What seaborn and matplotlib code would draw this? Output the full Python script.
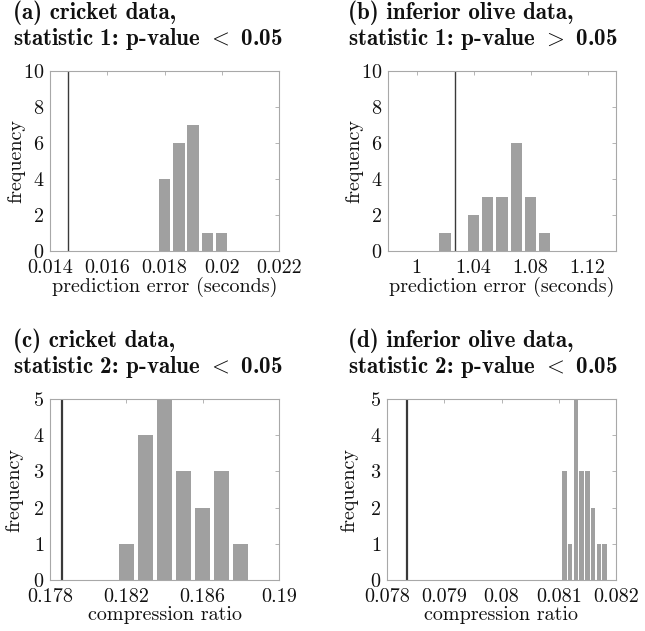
import matplotlib
matplotlib.use("Agg")
import matplotlib.pyplot as plt
import numpy as np
import pandas as pd
import seaborn as sns
from matplotlib.ticker import FormatStrFormatter

# (a) cricket data, statistic 1
a_centers = [0.0180, 0.0185, 0.0190, 0.0195, 0.0200]
a_counts = [4, 6, 7, 1, 1]
a_line = 0.01464

# (b) inferior olive data, statistic 1
b_centers = [1.02, 1.03, 1.04, 1.05, 1.06, 1.07, 1.08, 1.09]
b_counts = [1, 0, 2, 3, 3, 6, 3, 1]
b_line = 1.027

# (c) cricket data, statistic 2
c_centers = [0.182, 0.183, 0.184, 0.185, 0.186, 0.187, 0.188]
c_counts = [1, 4, 5, 3, 2, 3, 1]
c_line = 0.17861

# (d) inferior olive data, statistic 2
d_centers = [0.0811, 0.0812, 0.0813, 0.0814, 0.0815, 0.0816, 0.0817, 0.0818]
d_counts = [3, 1, 5, 3, 3, 2, 1, 1]
d_line = 0.07835

titles = [
    "(a) cricket data,\nstatistic 1: p-value $<$ 0.05",
    "(b) inferior olive data,\nstatistic 1: p-value $>$ 0.05",
    "(c) cricket data,\nstatistic 2: p-value $<$ 0.05",
    "(d) inferior olive data,\nstatistic 2: p-value $<$ 0.05",
]
xlabels = ["prediction error (seconds)", "prediction error (seconds)",
           "compression ratio", "compression ratio"]

sns.set_theme(style="white")
plt.rcParams["font.family"] = ["cmr10"]
plt.rcParams["mathtext.fontset"] = "cm"
plt.rcParams["axes.formatter.use_mathtext"] = True

BAR = "#a0a0a0"
BOX = "#a8a8a8"

fig = plt.figure(figsize=(6.45, 6.31), dpi=100)
W, H = 645, 631
boxes = [(50, 71, 229, 180), (388, 71, 228, 180),
         (50, 399, 229, 181), (387, 399, 229, 181)]
axes = [fig.add_axes([l / W, 1 - (t + h) / H, w / W, h / H]) for l, t, w, h in boxes]

panels = [
    (a_centers, a_counts, a_line, (0.014, 0.022), np.arange(0.014, 0.0221, 0.002), 10, np.arange(0, 11, 2), 1.0),
    (b_centers, b_counts, b_line, (0.98, 1.14), np.arange(1.0, 1.121, 0.04), 10, np.arange(0, 11, 2), 1.0),
    (c_centers, c_counts, c_line, (0.178, 0.19), np.arange(0.178, 0.1901, 0.004), 5, np.arange(0, 6, 1), 1.6),
    (d_centers, d_counts, d_line, (0.078, 0.082), np.arange(0.078, 0.08201, 0.001), 5, np.arange(0, 6, 1), 1.6),
]
title_x = [-0.162, -0.175, -0.162, -0.17]
ylab_x = [-0.109, -0.11, -0.118, -0.127]

for i, (ax, (cent, cnt, vline, xlim, xt, ymax, yt, lw)) in enumerate(zip(axes, panels)):
    df = pd.DataFrame({"value": cent, "count": cnt})
    w = float(np.diff(df["value"]).mean())
    lo = float(df["value"].iloc[0]) - w / 2
    hi = float(df["value"].iloc[-1]) + w / 2
    sns.histplot(data=df, x="value", weights="count", binwidth=w,
                 binrange=(lo, hi), shrink=0.8, color=BAR, alpha=1,
                 linewidth=0, ax=ax)
    ax.axvline(vline, color="#3a3a3a", lw=lw)
    ax.set_xlim(*xlim)
    ax.set_ylim(0, ymax)
    ax.set_xticks(xt)
    ax.set_yticks(yt)
    ax.xaxis.set_major_formatter(FormatStrFormatter("%g"))
    ax.tick_params(direction="in", length=3, width=0.6, color=BOX,
                   top=True, right=True, labelsize=14.5, labelcolor="#111111")
    ax.tick_params(axis="x", pad=6)
    ax.tick_params(axis="y", pad=4)
    for s in ax.spines.values():
        s.set_color(BOX)
        s.set_linewidth(0.8)
    ax.set_xlabel(xlabels[i], fontsize=14.5, labelpad=0, color="#111111")
    ax.set_ylabel("frequency", fontsize=14.5, color="#111111")
    ax.yaxis.set_label_coords(ylab_x[i], 0.5)
    ax.text(title_x[i], 1.105, titles[i], transform=ax.transAxes, ha="left",
            va="bottom", fontsize=16.6, family=["cmb10"], color="#111111",
            linespacing=1.05)

fig.savefig("out.png", dpi=100, facecolor="white")
